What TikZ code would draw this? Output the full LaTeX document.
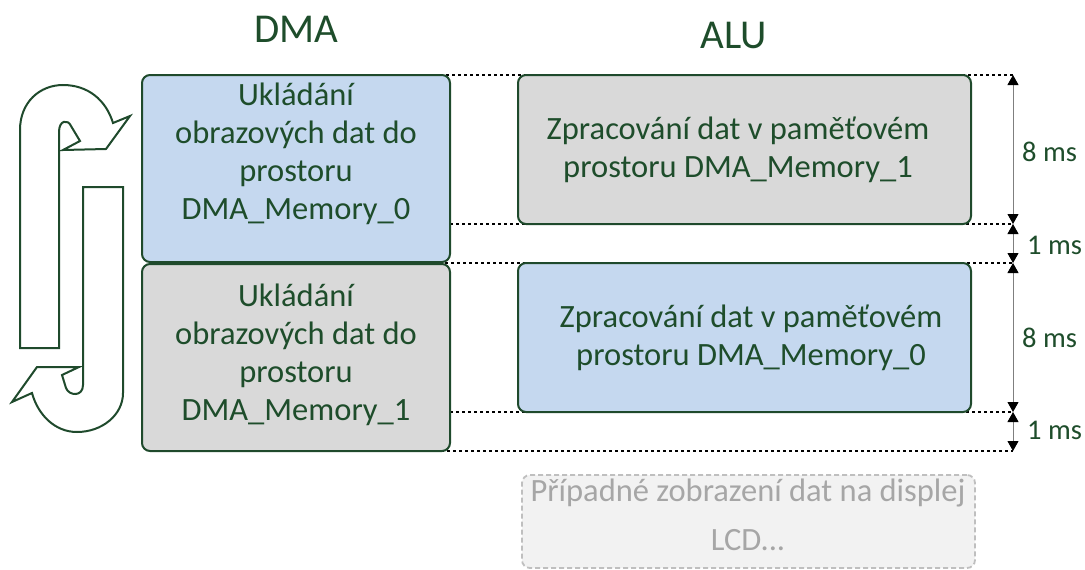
\documentclass[tikz,border=0pt]{standalone}
\usepackage{fontspec}
\setmainfont{Carlito}
\usetikzlibrary{arrows.meta}
\definecolor{dkgreen}{HTML}{1E4D2B}
\definecolor{bordergreen}{HTML}{1F4A2C}
\definecolor{lightblue}{HTML}{C5D8EF}
\definecolor{lightgray}{HTML}{D9D9D9}
\definecolor{lcdfill}{HTML}{F2F2F2}
\definecolor{lcdborder}{HTML}{BFBFBF}
\definecolor{lcdtext}{HTML}{A6A6A6}
\definecolor{dimgray}{HTML}{7F7F7F}
\tikzset{
  blockbox/.style={draw=bordergreen, line width=2pt, rounded corners=8pt, inner sep=0pt},
  bluebox/.style={blockbox, fill=lightblue},
  graybox/.style={blockbox, fill=lightgray},
  lcdbox/.style={draw=lcdborder, line width=1.8pt, dash pattern=on 5pt off 3pt, rounded corners=8pt, fill=lcdfill, inner sep=0pt},
  boxtext/.style={text=dkgreen, align=center, font=\fontsize{32.5}{38}\selectfont, inner sep=0pt},
  lcdtxt/.style={text=lcdtext, align=center, font=\fontsize{32.5}{49}\selectfont, inner sep=0pt},
  titletext/.style={text=dkgreen, font=\fontsize{41}{46}\selectfont, inner sep=0pt, anchor=base},
  mslabel/.style={text=dkgreen, font=\fontsize{28.5}{32}\selectfont, inner sep=0pt, anchor=west},
  guide/.style={line width=2.2pt, dash pattern=on 3pt off 3pt, black},
  dimline/.style={draw=dimgray, line width=1pt, arrows={Triangle[length=10pt,width=11pt,black]-Triangle[length=10pt,width=11pt,black]}},
  uturn/.style={draw=bordergreen, line width=2pt, fill=white, line join=miter}
}
\begin{document}
\begin{tikzpicture}[x=1pt,y=-1pt]
\useasboundingbox (0,0) rectangle (1085,570);

% titles
\node[titletext] (tdma) at (296,42) {DMA};
\node[titletext] (talu) at (734,48) {ALU};

% guide coordinates
\coordinate (g0l) at (440,75);   \coordinate (g0r) at (1013,75);
\coordinate (g1l) at (450,224);  \coordinate (g1r) at (1013,224);
\coordinate (g2l) at (445,263);  \coordinate (g2r) at (1013,263);
\coordinate (g3l) at (450,412);  \coordinate (g3r) at (1013,412);
\coordinate (g4l) at (423,451);  \coordinate (g4r) at (1013,451);

\draw[guide] (g0l) -- (g0r);
\draw[guide] (g1l) -- (g1r);
\draw[guide] (g2l) -- (g2r);
\draw[guide] (g3l) -- (g3r);
\draw[guide] (g4l) -- (g4r);

% DMA boxes
\node[bluebox, minimum width=308pt, minimum height=187pt] (dma0) at (296,168.5) {};
\node[graybox, minimum width=308pt, minimum height=187pt] (dma1) at (296,357.5) {};
\node[boxtext] (dma0t) at (296,154) {Ukládání\\obrazových dat do\\prostoru\\DMA\_Memory\_0};
\node[boxtext] (dma1t) at (296,355) {Ukládání\\obrazových dat do\\prostoru\\DMA\_Memory\_1};

% ALU boxes
\node[graybox, minimum width=453pt, minimum height=149pt] (alu0) at (744.5,149.5) {};
\node[bluebox, minimum width=453pt, minimum height=149pt] (alu1) at (744.5,337.5) {};
\node[boxtext] (alu0t) at (738,150) {Zpracování dat v paměťovém\\prostoru DMA\_Memory\_1};
\node[boxtext] (alu1t) at (751,338) {Zpracování dat v paměťovém\\prostoru DMA\_Memory\_0};

% LCD box
\node[lcdbox, minimum width=453pt, minimum height=93pt] (lcd) at (748.5,521.5) {};
\node[lcdtxt] (lcdt) at (748,515) {Případné zobrazení dat na displej\\LCD...};

% dimension lines
\draw[dimline] (g0r) -- (g1r);
\draw[dimline] (g1r) -- (g2r);
\draw[dimline] (g2r) -- (g3r);
\draw[dimline] (g3r) -- (g4r);
\node[mslabel] (ms8a) at (1022,152) {8 ms};
\node[mslabel] (ms1a) at (1027,245) {1 ms};
\node[mslabel] (ms8b) at (1022,338) {8 ms};
\node[mslabel] (ms1b) at (1027,430) {1 ms};

% U-turn arrows
\draw[uturn] (20,348) -- (20,130) .. controls (20,102) and (40,85) .. (63,85)
  .. controls (88,85) and (106,100) .. (113,123) -- (130,116) -- (106,149)
  -- (63,150) -- (80,141) -- (71,126) .. controls (68,119) and (59,120) .. (59,132)
  -- (59,348) -- cycle;
\draw[uturn] (83,187) -- (123,187) -- (123,393) .. controls (123,415) and (102,432) .. (77,432)
  .. controls (55,432) and (38,415) .. (32,393) -- (12,402) -- (37,367)
  -- (79,367) -- (62,375) -- (66,388) .. controls (69,396) and (83,397) .. (83,385)
  -- cycle;
\end{tikzpicture}
\end{document}
